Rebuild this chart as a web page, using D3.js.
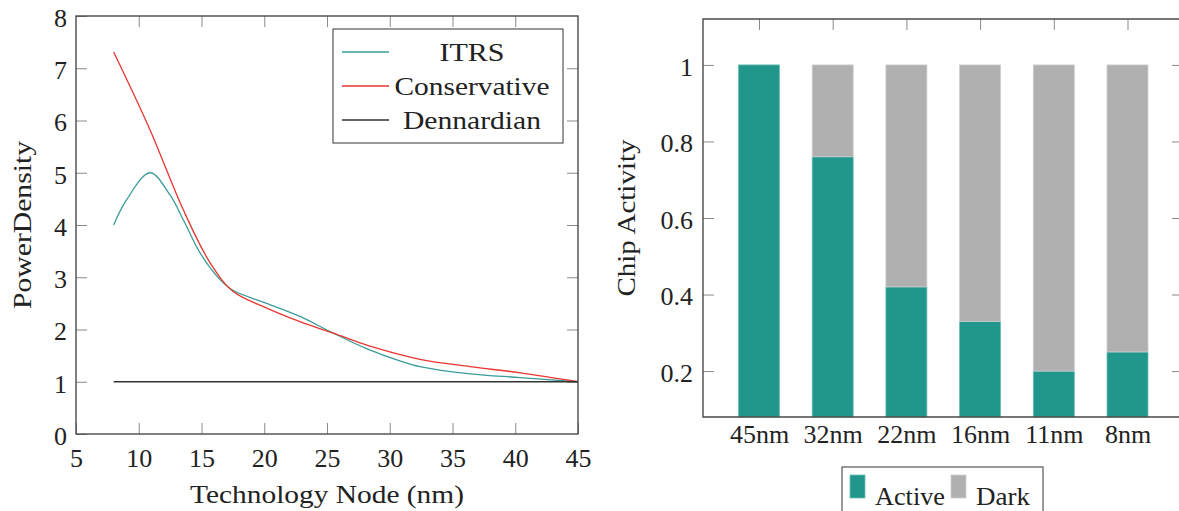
<!DOCTYPE html>
<html>
<head>
<meta charset="utf-8">
<script src="https://cdn.jsdelivr.net/npm/d3@7"></script>
<style>
body{margin:0;background:#fff}
svg text{font-family:"Liberation Serif","Tinos","Times New Roman","DejaVu Serif","Noto Serif",serif !important;fill:#222}
</style>
</head>
<body>
<div id="chart"></div>
<script>

// ---- left panel: power density vs node ----
var itrsX = [8, 9, 10.9, 12.5, 13.55, 14.9, 16.5, 17.5, 20.2, 22.85, 25.5, 28.2, 30.8, 32.4, 36.4, 40.4, 45]
var itrsY = [4.0, 4.47, 5.0, 4.57, 4.10, 3.46, 2.95, 2.75, 2.50, 2.25, 1.93, 1.63, 1.40, 1.29, 1.15, 1.08, 1.0]
var consX = [8, 10.9, 13.55, 15.7, 17.5, 20.2, 22.85, 25.5, 28.3, 32.4, 36.4, 40.4, 45]
var consY = [7.31, 5.82, 4.29, 3.27, 2.73, 2.41, 2.15, 1.93, 1.69, 1.43, 1.29, 1.17, 1.0]
var dennX = [8, 45]
var dennY = [1, 1]
var seriesNames = ["ITRS", "Conservative", "Dennardian"]
var xTicks = [5, 10, 15, 20, 25, 30, 35, 40, 45]
var yTicks = [0, 1, 2, 3, 4, 5, 6, 7, 8]

// ---- right panel: chip activity ----
var nodes = ["45nm", "32nm", "22nm", "16nm", "11nm", "8nm"]
var active = [1.0, 0.76, 0.42, 0.33, 0.20, 0.25]
var dark = [0.0, 0.24, 0.58, 0.67, 0.80, 0.75]
var actTicks = [0.2, 0.4, 0.6, 0.8, 1]

var teal = "#3a9c99", red = "#e8362f", black = "#333"
var barTeal = "#21968a", barGray = "#b0b0b0"

var svg = d3.select("#chart").append("svg")
    .attr("width", 1179).attr("height", 511)

function styleAxis(g){
    g.attr("font-family", null)
    g.select(".domain").remove()
    g.selectAll(".tick line").attr("stroke", "#8a8a8a").attr("stroke-width", 1)
    g.selectAll(".tick text").attr("fill", "#222").style("font-size", "26px")
}

// ================= left chart =================
var L = {left: 76, right: 578, top: 16, bottom: 434}
var x1 = d3.scaleLinear().domain([5, 45]).range([L.left, L.right])
var y1 = d3.scaleLinear().domain([0, 8]).range([L.bottom, L.top])

var left = svg.append("g")

left.append("g").attr("transform", "translate(0," + L.bottom + ")")
    .call(d3.axisBottom(x1).tickValues(xTicks).tickSize(-11).tickPadding(14.5))
    .call(styleAxis)
left.append("g").attr("transform", "translate(0," + L.top + ")")
    .call(d3.axisTop(x1).tickValues(xTicks.slice(1, -1)).tickSize(-11).tickFormat(""))
    .call(styleAxis)
left.append("g").attr("transform", "translate(" + L.left + ",0)")
    .call(d3.axisLeft(y1).tickValues(yTicks).tickSize(-11).tickPadding(9))
    .call(styleAxis)
    .selectAll(".tick text").attr("dy", "0.4em")
left.append("g").attr("transform", "translate(" + L.right + ",0)")
    .call(d3.axisRight(y1).tickValues(yTicks.slice(1, -1)).tickSize(-11).tickFormat(""))
    .call(styleAxis)

var line1 = d3.line()
    .x(d => x1(d[0])).y(d => y1(d[1]))
    .curve(d3.curveCatmullRom.alpha(0.5))

var lineData = [
    {name: seriesNames[0], color: teal, pts: d3.zip(itrsX, itrsY)},
    {name: seriesNames[1], color: red, pts: d3.zip(consX, consY)},
    {name: seriesNames[2], color: black, pts: d3.zip(dennX, dennY)}
]

left.selectAll(".series").data(lineData).enter()
    .append("path")
    .attr("d", d => line1(d.pts))
    .attr("fill", "none")
    .attr("stroke", d => d.color)
    .attr("stroke-width", 1.3)

left.append("rect")
    .attr("x", L.left).attr("y", L.top)
    .attr("width", L.right - L.left).attr("height", L.bottom - L.top)
    .attr("fill", "none").attr("stroke", "#4a4a4a").attr("stroke-width", 1.4)

// legend
var leg1 = left.append("g")
leg1.append("rect").attr("x", 333).attr("y", 29).attr("width", 230).attr("height", 114)
    .attr("fill", "#fff").attr("stroke", "#555").attr("stroke-width", 1.2)
var legW = [65, 155, 138]
lineData.forEach(function(d, i){
    var cy = 52 + i * 34
    leg1.append("line").attr("x1", 342).attr("x2", 389).attr("y1", cy).attr("y2", cy)
        .attr("stroke", d.color).attr("stroke-width", 1.3)
    leg1.append("text").attr("x", 472).attr("y", cy + 9)
        .attr("text-anchor", "middle").style("font-size", "26px")
        .attr("textLength", legW[i]).attr("lengthAdjust", "spacingAndGlyphs")
        .text(d.name)
})

left.append("text").attr("x", (L.left + L.right) / 2).attr("y", 503)
    .attr("text-anchor", "middle").style("font-size", "26px")
    .attr("textLength", 274).attr("lengthAdjust", "spacingAndGlyphs")
    .text("Technology Node (nm)")
left.append("text")
    .attr("transform", "translate(31," + (L.top + L.bottom) / 2 + ") rotate(-90)")
    .attr("text-anchor", "middle").style("font-size", "26px")
    .attr("textLength", 168).attr("lengthAdjust", "spacingAndGlyphs")
    .text("PowerDensity")

// ================= right chart =================
var R = {left: 703, right: 1183, top: 19, bottom: 417}
var x2 = d3.scalePoint().domain(nodes).range([759, 1127.5])
var y2 = d3.scaleLinear().domain([0.08, 1.12]).range([R.bottom, R.top])
var barW = 41

var right = svg.append("g")

right.append("g").attr("transform", "translate(0," + R.top + ")")
    .call(d3.axisTop(x2).tickSize(-11).tickFormat(""))
    .call(styleAxis)
right.append("g").attr("transform", "translate(" + R.left + ",0)")
    .call(d3.axisLeft(y2).tickValues(actTicks).tickSize(-11).tickPadding(10)
        .tickFormat(d => String(d)))
    .call(styleAxis)
    .selectAll(".tick text").attr("dy", "0.4em")
right.append("g").attr("transform", "translate(" + R.right + ",0)")
    .call(d3.axisRight(y2).tickValues(actTicks).tickSize(-11).tickFormat(""))
    .call(styleAxis)
right.append("g").attr("transform", "translate(0," + R.bottom + ")")
    .call(d3.axisBottom(x2).tickSize(0).tickPadding(7.5))
    .call(styleAxis)

var stacked = nodes.map((n, i) => ({node: n, active: active[i], dark: dark[i]}))

right.selectAll(".act").data(stacked).enter().append("rect")
    .attr("x", d => x2(d.node) - barW / 2)
    .attr("y", d => y2(d.active))
    .attr("width", barW)
    .attr("height", d => R.bottom - y2(d.active))
    .attr("fill", barTeal).attr("stroke", "#6cbdb3").attr("stroke-width", 0.8)

right.selectAll(".drk").data(stacked.filter(d => d.dark > 0)).enter().append("rect")
    .attr("x", d => x2(d.node) - barW / 2)
    .attr("y", d => y2(d.active + d.dark))
    .attr("width", barW)
    .attr("height", d => y2(d.active) - y2(d.active + d.dark))
    .attr("fill", barGray).attr("stroke", "#cfcfcf").attr("stroke-width", 0.8)

right.append("path")
    .attr("d", "M" + R.right + "," + R.top + "H" + R.left + "V" + R.bottom + "H" + R.right)
    .attr("fill", "none").attr("stroke", "#4a4a4a").attr("stroke-width", 1.4)

right.append("text")
    .attr("transform", "translate(635," + (R.top + R.bottom) / 2 + ") rotate(-90)")
    .attr("text-anchor", "middle").style("font-size", "26px")
    .attr("textLength", 157).attr("lengthAdjust", "spacingAndGlyphs")
    .text("Chip Activity")

// bottom legend
var leg2 = right.append("g")
leg2.append("rect").attr("x", 842).attr("y", 467).attr("width", 201).attr("height", 70)
    .attr("fill", "#fff").attr("stroke", "#555").attr("stroke-width", 1.2)
var leg2Items = [
    {label: "Active", fill: barTeal, stroke: "#6cbdb3", x: 850, w: 70},
    {label: "Dark", fill: barGray, stroke: "#cfcfcf", x: 951, w: 54}
]
leg2Items.forEach(function(d){
    leg2.append("rect").attr("x", d.x).attr("y", 475).attr("width", 15).attr("height", 23)
        .attr("fill", d.fill).attr("stroke", d.stroke).attr("stroke-width", 0.8)
    leg2.append("text").attr("x", d.x + 25).attr("y", 505)
        .style("font-size", "26px")
        .attr("textLength", d.w).attr("lengthAdjust", "spacingAndGlyphs")
        .text(d.label)
})

</script>
</body>
</html>
